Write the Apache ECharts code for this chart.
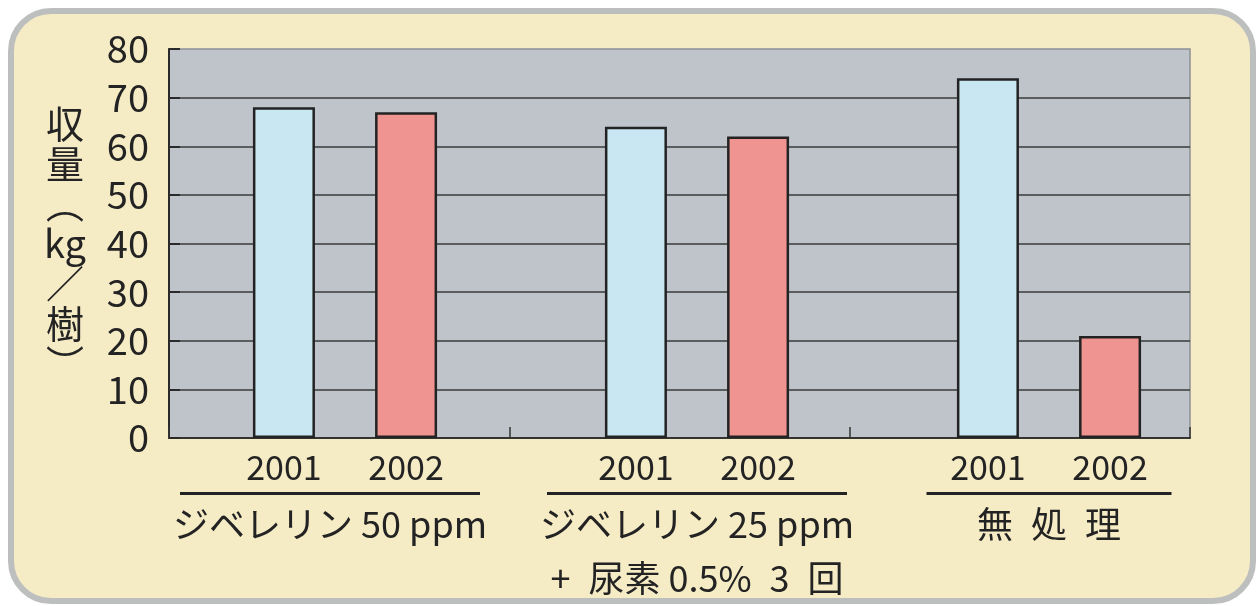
<!DOCTYPE html>
<html><head><meta charset="utf-8">
<script src="https://cdn.jsdelivr.net/npm/echarts@6/dist/echarts.min.js"></script>
<style>html,body{margin:0;padding:0;background:#fff;}#c{width:1259px;height:606px;}</style>
</head><body><div id="c"></div>
<script>
const groups = ['ジベレリン 50 ppm', 'ジベレリン 25 ppm\n+\u2002尿素 0.5%\u20023\u2002回', '無\u2002処\u2002理'];
const seriesNames = ['2001', '2002'];
const values2001 = [68, 64, 74];
const values2002 = [67, 62, 21];
const yTicks = [0, 10, 20, 30, 40, 50, 60, 70, 80];
const yName = ['収', '量', '︵', 'kg', '／', '樹', '︶'];

const FONT = '"Noto Sans CJK JP", "Noto Sans", sans-serif';
const DARK = '#232323';
const lineWidths = [300, 300, 245];

const chart = echarts.init(document.getElementById('c'));
chart.setOption({
  backgroundColor: '#ffffff',
  animation: false,
  textStyle: { fontFamily: FONT },
  graphic: { elements: [{
    type: 'rect', z: -100, silent: true,
    shape: { x: 11, y: 11, width: 1242, height: 590, r: 40 },
    style: { fill: '#F5EBC5', stroke: '#BDBEBE', lineWidth: 6 }
  }]},
  grid: [
    { left: 169, top: 49, width: 1021, height: 389, show: true, backgroundColor: '#BFC3CA', borderColor: '#8C9096', borderWidth: 1.5 },
    { left: 169, top: 49, width: 1056, height: 389, show: false }
  ],
  xAxis: [
    { type: 'category', gridIndex: 0, data: groups, boundaryGap: true, z: 3,
      axisLine: { lineStyle: { color: '#333', width: 2 } },
      axisTick: { show: true, inside: true, length: 11, interval: 0, lineStyle: { color: '#333', width: 1.5 } },
      axisLabel: { show: false }, splitLine: { show: false } },
    { type: 'category', gridIndex: 1, boundaryGap: true,
      data: groups.map((g, i) => i === 0 ? { value: g, textStyle: { padding: [0, 30, 0, 0] } } : g),
      axisLine: { show: false }, axisTick: { show: false }, splitLine: { show: false },
      axisLabel: { interval: 0, margin: 54, color: DARK,
        formatter: function (v, i) {
          const lines = v.split('\n');
          let s = '{ln' + i + '| }\n{t|' + lines[0] + '}';
          if (lines[1]) s += '\n{t2|' + lines[1] + '}';
          return s;
        },
        rich: {
          ln0: { width: lineWidths[0], height: 3, lineHeight: 3, fontSize: 1, backgroundColor: DARK },
          ln1: { width: lineWidths[1], height: 3, lineHeight: 3, fontSize: 1, backgroundColor: DARK },
          ln2: { width: lineWidths[2], height: 3, lineHeight: 3, fontSize: 1, backgroundColor: DARK },
          t: { fontSize: 36, lineHeight: 58, color: DARK, fontFamily: FONT },
          t2: { fontSize: 36, lineHeight: 50, color: DARK, fontFamily: FONT }
        } } }
  ],
  yAxis: [
    { type: 'value', gridIndex: 0, min: yTicks[0], max: yTicks[yTicks.length - 1], interval: 10, z: 3,
      name: yName.join('\n'), nameLocation: 'middle', nameRotate: 0, nameGap: 104,
      nameTextStyle: { fontSize: 38, lineHeight: 40, color: DARK, align: 'center', verticalAlign: 'middle', padding: [0, 0, 44, 0], fontFamily: FONT },
      axisLine: { show: true, lineStyle: { color: '#2a2a2a', width: 2 } },
      axisTick: { show: true, inside: true, length: 11, lineStyle: { color: '#2a2a2a', width: 2 } },
      axisLabel: { fontSize: 38, color: DARK, margin: 20, fontFamily: FONT },
      splitLine: { show: true, showMinLine: false, showMaxLine: false, lineStyle: { color: '#3a3a3a', width: 1.5 } } },
    { type: 'value', gridIndex: 1, min: yTicks[0], max: yTicks[yTicks.length - 1], interval: 10, show: false,
      splitLine: { show: false } }
  ],
  series: [
    { name: seriesNames[0], type: 'bar', xAxisIndex: 1, yAxisIndex: 1, data: values2001,
      barWidth: 62, barGap: '97%', z: 5,
      itemStyle: { color: '#C9E7F3', borderColor: DARK, borderWidth: 2.5 },
      label: { show: true, position: 'bottom', distance: 12, formatter: '{a}', fontSize: 34, color: DARK, fontFamily: FONT } },
    { name: seriesNames[1], type: 'bar', xAxisIndex: 1, yAxisIndex: 1, data: values2002,
      barWidth: 62, barGap: '97%', z: 5,
      itemStyle: { color: '#EF9491', borderColor: DARK, borderWidth: 2.5 },
      label: { show: true, position: 'bottom', distance: 12, formatter: '{a}', fontSize: 34, color: DARK, fontFamily: FONT } }
  ]
});
</script></body></html>
